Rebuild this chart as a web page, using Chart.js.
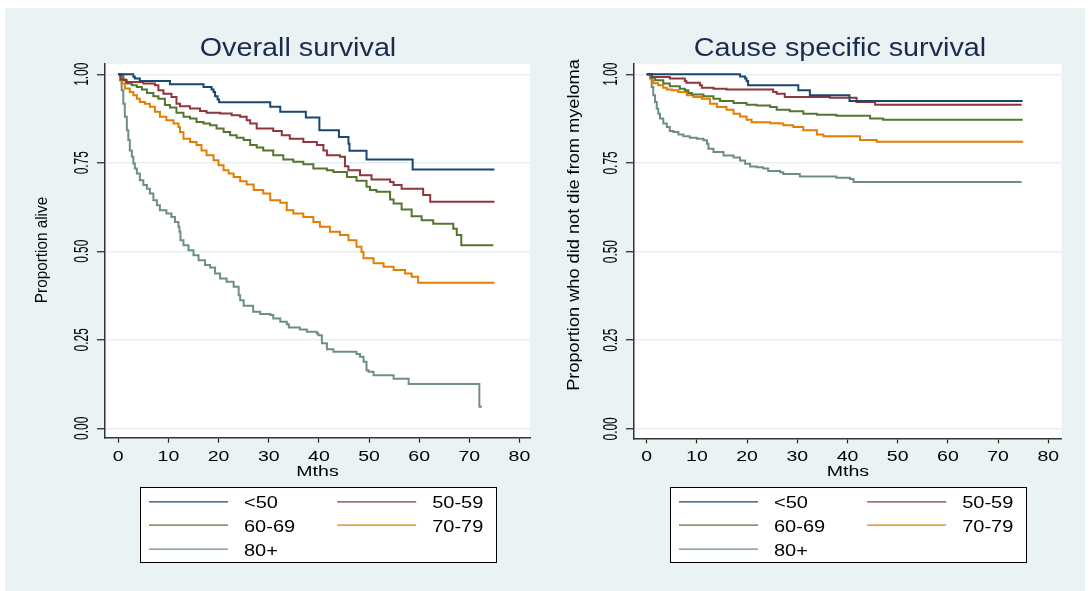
<!DOCTYPE html>
<html>
<head>
<meta charset="utf-8">
<script src="https://cdn.jsdelivr.net/npm/chart.js@4.4.1/dist/chart.umd.min.js"></script>
<style>
body { margin: 0; background: #fff; width: 1091px; height: 591px; overflow: hidden; position: relative; }
#bg { position: absolute; left: 5px; top: 8px; width: 1080px; height: 583px; background: #eaf2f3; }
canvas { position: absolute; top: 0; }
#left { left: 0; }
#right { left: 545px; }
</style>
</head>
<body>
<div id="bg"></div>
<canvas id="left" width="545" height="591"></canvas>
<canvas id="right" width="546" height="591"></canvas>
<script>
// age groups and colours
const groups = ['<50', '50-59', '60-69', '70-79', '80+'];
const colors = ['#1a476f', '#90353b', '#55752f', '#e37e00', '#6e8e84'];
const xTicks = [0, 10, 20, 30, 40, 50, 60, 70, 80];
const yTicks = [0, 0.25, 0.5, 0.75, 1];

// Overall survival (months, proportion alive)
const osT50 = [0, 3.0, 3.3, 4.3, 10.3, 17.0, 18.6, 19.0, 19.3, 19.8, 20.1, 30.3, 32.3, 37.4, 40.1, 44.0, 45.9, 46.1, 49.5, 58.7, 75.0];
const osS50 = [1, 0.993, 0.988, 0.981, 0.972, 0.964, 0.957, 0.950, 0.938, 0.929, 0.921, 0.908, 0.894, 0.878, 0.842, 0.823, 0.804, 0.784, 0.759, 0.731, 0.731];
const osT5059 = [0, 0.5, 1.5, 5.0, 7.3, 8.0, 9.0, 10.6, 11.6, 12.3, 14.3, 16.3, 17.6, 20.3, 22.6, 24.3, 25.6, 26.3, 27.6, 30.9, 32.6, 34.2, 36.9, 39.6, 40.9, 41.6, 44.2, 45.2, 45.9, 48.2, 50.5, 54.2, 54.9, 56.5, 60.8, 62.2, 75.0];
const osS5059 = [1, 0.985, 0.978, 0.974, 0.969, 0.955, 0.945, 0.936, 0.917, 0.910, 0.903, 0.896, 0.891, 0.889, 0.884, 0.880, 0.870, 0.861, 0.847, 0.840, 0.828, 0.818, 0.809, 0.800, 0.785, 0.771, 0.767, 0.740, 0.729, 0.715, 0.703, 0.696, 0.687, 0.677, 0.659, 0.640, 0.640];
const osT6069 = [0, 0.3, 1.0, 1.7, 2.7, 3.7, 4.7, 5.7, 7.0, 8.0, 9.3, 10.3, 11.6, 13.0, 14.3, 15.6, 17.0, 18.3, 19.6, 21.0, 22.3, 23.6, 25.0, 26.3, 27.6, 28.9, 30.9, 32.9, 34.9, 36.9, 38.9, 41.6, 42.9, 45.6, 47.5, 49.5, 50.2, 51.5, 54.2, 54.9, 56.5, 58.5, 60.5, 62.8, 66.8, 67.5, 68.4, 74.8];
const osS6069 = [1, 0.997, 0.983, 0.974, 0.969, 0.964, 0.957, 0.947, 0.938, 0.931, 0.913, 0.906, 0.891, 0.880, 0.875, 0.865, 0.861, 0.856, 0.847, 0.837, 0.828, 0.821, 0.814, 0.800, 0.793, 0.785, 0.771, 0.759, 0.753, 0.746, 0.734, 0.729, 0.724, 0.710, 0.699, 0.682, 0.673, 0.668, 0.646, 0.635, 0.618, 0.599, 0.588, 0.578, 0.564, 0.546, 0.517, 0.517];
const osT7079 = [0, 0.34, 0.67, 1.3, 2.3, 3.0, 3.7, 4.3, 5.3, 6.3, 7.3, 8.3, 9.6, 11.0, 12.0, 12.3, 13.0, 14.3, 15.6, 16.6, 17.6, 19.0, 20.0, 21.0, 22.0, 23.0, 24.3, 25.6, 27.0, 28.9, 30.3, 32.3, 33.6, 34.9, 36.9, 38.9, 40.2, 42.2, 44.2, 45.9, 47.5, 48.5, 48.9, 50.9, 52.9, 54.9, 57.2, 58.5, 59.8, 75.0];
const osS7079 = [1, 0.988, 0.974, 0.960, 0.950, 0.941, 0.931, 0.922, 0.917, 0.908, 0.894, 0.880, 0.870, 0.861, 0.851, 0.837, 0.818, 0.809, 0.800, 0.785, 0.771, 0.757, 0.743, 0.729, 0.720, 0.710, 0.698, 0.689, 0.673, 0.663, 0.644, 0.637, 0.616, 0.607, 0.597, 0.583, 0.569, 0.555, 0.546, 0.531, 0.513, 0.498, 0.480, 0.466, 0.456, 0.447, 0.437, 0.428, 0.411, 0.411];
const osT80 = [0, 0.34, 0.67, 1.0, 1.3, 1.7, 2.0, 2.3, 2.7, 3.0, 3.3, 3.7, 4.3, 5.0, 5.7, 6.3, 7.0, 7.7, 8.3, 9.6, 10.6, 11.3, 12.0, 12.2, 12.4, 13.0, 14.0, 15.0, 16.0, 17.3, 18.3, 19.3, 20.3, 21.6, 23.0, 24.0, 24.3, 25.0, 26.9, 28.3, 30.3, 30.9, 32.3, 33.6, 34.0, 36.2, 37.6, 39.6, 39.9, 40.6, 41.6, 42.9, 47.5, 48.2, 48.9, 49.5, 49.9, 50.9, 54.9, 57.9, 72.0, 72.5];
const osS80 = [1, 0.983, 0.955, 0.917, 0.880, 0.842, 0.814, 0.785, 0.767, 0.748, 0.734, 0.720, 0.701, 0.687, 0.677, 0.663, 0.644, 0.630, 0.616, 0.607, 0.597, 0.583, 0.569, 0.555, 0.531, 0.517, 0.503, 0.489, 0.475, 0.461, 0.454, 0.437, 0.423, 0.414, 0.400, 0.376, 0.362, 0.346, 0.329, 0.323, 0.320, 0.310, 0.301, 0.294, 0.285, 0.279, 0.273, 0.268, 0.263, 0.240, 0.223, 0.216, 0.210, 0.202, 0.188, 0.164, 0.160, 0.150, 0.140, 0.125, 0.061, 0.061];

// Cause specific survival (months, proportion who did not die from myeloma)
const csT50 = [0, 18.6, 19.6, 19.9, 20.2, 30.2, 32.5, 40.4, 74.9];
const csS50 = [1, 0.994, 0.988, 0.981, 0.969, 0.955, 0.941, 0.925, 0.925];
const csT5059 = [0, 1.0, 4.6, 7.6, 7.9, 10.6, 11.0, 13.3, 15.9, 25.2, 25.9, 27.5, 36.5, 41.8, 45.5, 74.7];
const csS5059 = [1, 0.992, 0.988, 0.981, 0.976, 0.969, 0.962, 0.959, 0.957, 0.950, 0.945, 0.936, 0.934, 0.922, 0.914, 0.914];
const csT6069 = [0, 1.0, 1.7, 3.3, 4.6, 6.6, 7.6, 8.3, 9.0, 11.3, 13.3, 14.6, 17.3, 19.9, 21.9, 24.6, 25.9, 28.5, 31.2, 33.9, 37.8, 44.5, 47.1, 74.9];
const csS6069 = [1, 0.990, 0.983, 0.974, 0.966, 0.959, 0.955, 0.947, 0.943, 0.938, 0.931, 0.925, 0.919, 0.914, 0.912, 0.908, 0.900, 0.896, 0.889, 0.886, 0.883, 0.875, 0.872, 0.872];
const csT7079 = [0, 1.0, 1.3, 2.3, 3.3, 4.0, 5.0, 6.3, 8.0, 9.3, 11.0, 12.6, 14.0, 15.9, 17.3, 18.6, 19.9, 20.9, 24.6, 26.5, 27.2, 29.2, 31.2, 33.9, 35.2, 42.5, 45.8, 75.0];
const csS7079 = [1, 0.983, 0.975, 0.969, 0.962, 0.957, 0.955, 0.950, 0.941, 0.936, 0.931, 0.917, 0.908, 0.900, 0.889, 0.881, 0.872, 0.865, 0.862, 0.861, 0.856, 0.851, 0.842, 0.830, 0.825, 0.815, 0.810, 0.810];
const csT80 = [0, 0.65, 1.0, 1.3, 1.65, 2.0, 2.3, 2.65, 3.3, 4.0, 4.6, 5.3, 6.3, 7.3, 8.6, 10.0, 11.3, 12.0, 12.3, 13.3, 15.3, 17.3, 18.6, 19.6, 20.6, 21.9, 23.2, 24.2, 26.6, 27.2, 30.5, 37.8, 40.5, 41.2, 74.7];
const csS80 = [1, 0.988, 0.964, 0.941, 0.922, 0.903, 0.889, 0.875, 0.861, 0.851, 0.840, 0.837, 0.830, 0.825, 0.821, 0.818, 0.814, 0.804, 0.790, 0.781, 0.771, 0.765, 0.757, 0.748, 0.740, 0.738, 0.734, 0.727, 0.724, 0.719, 0.712, 0.708, 0.705, 0.696, 0.696];

const FONT = '"Liberation Sans", Arial, Helvetica, sans-serif';

function txt(ctx, s, x, y, size, sx, rot, color, align) {
	ctx.save();
	ctx.translate(x, y);
	if (rot) ctx.rotate(rot);
	ctx.scale(sx, 1);
	ctx.font = size + 'px ' + FONT;
	ctx.fillStyle = color;
	ctx.textAlign = align;
	ctx.textBaseline = 'alphabetic';
	ctx.fillText(s, 0, 0);
	ctx.restore();
}

const panelPlugin = {
	id: 'panel',
	beforeDraw(chart) {
		const a = chart.chartArea, ctx = chart.ctx;
		ctx.save();
		ctx.fillStyle = '#fff';
		ctx.fillRect(a.left, a.top, a.right - a.left, a.bottom - a.top);
		ctx.restore();
	},
	afterDraw(chart, args, o) {
		const ctx = chart.ctx, xs = chart.scales.x, ys = chart.scales.y, a = chart.chartArea;
		const mid = (a.left + a.right) / 2;
		txt(ctx, o.title, o.titleX, 56, 25, 1.15, 0, '#1c2a4e', 'center');
		xTicks.forEach(v => txt(ctx, String(v), xs.getPixelForValue(v), 461, 15, 1.3, 0, '#000', 'center'));
		yTicks.forEach(v => txt(ctx, v.toFixed(2), o.yLabelX, ys.getPixelForValue(v), 20.5, 0.58, -Math.PI / 2, '#000', 'center'));
		txt(ctx, 'Mths', mid, 476, 15.4, 1.27, 0, '#000', 'center');
		txt(ctx, o.yTitle, o.yTitleX, o.yTitleY, o.yTitleSize, o.yTitleSx, -Math.PI / 2, '#000', 'center');

		// legend box
		const bw = 356, bh = 75, bx = Math.round(mid - bw / 2) + 0.5, by = 487.5;
		ctx.save();
		ctx.fillStyle = '#fff';
		ctx.fillRect(bx, by, bw, bh);
		ctx.strokeStyle = '#000';
		ctx.lineWidth = 1;
		ctx.strokeRect(bx, by, bw, bh);
		const rows = [14.3, 37.6, 61.6];
		chart.data.datasets.forEach((d, i) => {
			const col = i % 2, row = Math.floor(i / 2);
			const lx = bx + 8.5 + col * 188.2, ly = by + rows[row];
			ctx.strokeStyle = d.borderColor;
			ctx.lineWidth = 1.3;
			ctx.beginPath();
			ctx.moveTo(lx, ly);
			ctx.lineTo(lx + 79, ly);
			ctx.stroke();
			txt(ctx, d.label, lx + 95, ly + 6.5, 16, 1.25, 0, '#000', 'left');
		});
		ctx.restore();
	}
};

function makeData(ts, ss) {
	return ts.map((t, i) => ({ x: t, y: ss[i] }));
}

function makeChart(id, series, opts) {
	new Chart(document.getElementById(id), {
		type: 'line',
		data: {
			datasets: series.map((s, i) => ({
				label: groups[i],
				data: makeData(s[0], s[1]),
				borderColor: colors[i],
				borderWidth: 2,
				stepped: true,
				pointRadius: 0,
				fill: false
			}))
		},
		options: {
			responsive: false,
			animation: false,
			layout: { padding: { left: 0, right: opts.padRight, top: 64, bottom: 0 } },
			plugins: {
				legend: { display: false },
				tooltip: { enabled: false },
				panel: opts
			},
			scales: {
				x: {
					type: 'linear',
					min: opts.xMin,
					max: opts.xMax,
					afterFit: s => { s.height = 591 - opts.bottom; },
					afterBuildTicks: s => { s.ticks = xTicks.map(v => ({ value: v })); },
					ticks: { display: false },
					grid: { drawOnChartArea: false, drawTicks: true, tickLength: 5, tickColor: '#222', tickWidth: 1.2 },
					border: { display: true, color: '#333', width: 1.5 }
				},
				y: {
					min: -0.0265,
					max: 1.029,
					afterFit: s => { s.width = opts.left; },
					afterBuildTicks: s => { s.ticks = yTicks.map(v => ({ value: v })); },
					ticks: { display: false },
					grid: { color: '#e6eff1', lineWidth: 1.5, drawTicks: true, tickLength: 8, tickColor: '#222', tickWidth: 1.2 },
					border: { display: true, color: '#333', width: 1.5 }
				}
			}
		},
		plugins: [panelPlugin]
	});
}

makeChart('left', [[osT50, osS50], [osT5059, osS5059], [osT6069, osS6069], [osT7079, osS7079], [osT80, osS80]], {
	title: 'Overall survival', titleX: 298,
	yTitle: 'Proportion alive', yTitleX: 47, yTitleY: 250, yTitleSize: 17, yTitleSx: 0.9,
	yLabelX: 88, left: 105, padRight: 15, bottom: 437.7, xMin: -2.65, xMax: 82.1
});

makeChart('right', [[csT50, csS50], [csT5059, csS5059], [csT6069, csS6069], [csT7079, csS7079], [csT80, csS80]], {
	title: 'Cause specific survival', titleX: 295,
	yTitle: 'Proportion who did not die from myeloma', yTitleX: 34, yTitleY: 225, yTitleSize: 17, yTitleSx: 1.07,
	yLabelX: 72, left: 89, padRight: 29.3, bottom: 438.3, xMin: -2.53, xMax: 82.67
});
</script>
</body>
</html>
